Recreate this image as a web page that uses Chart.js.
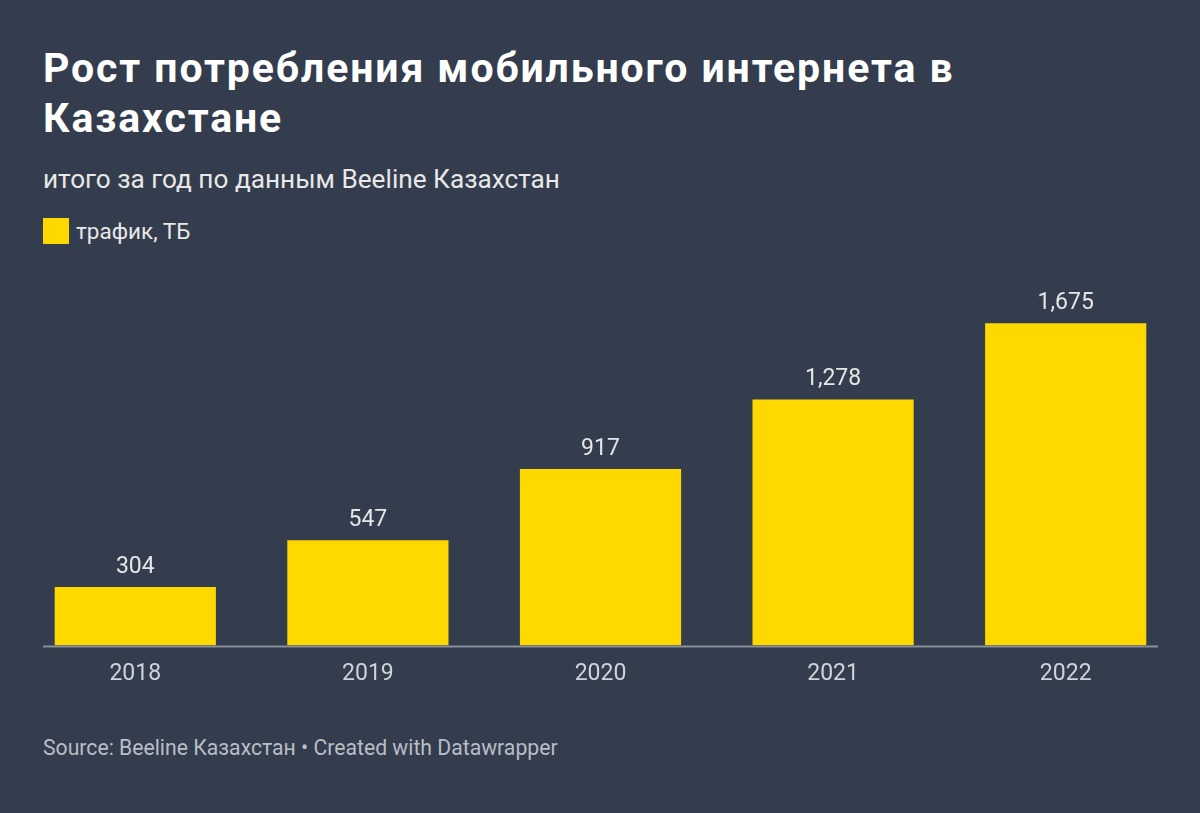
<!DOCTYPE html>
<html lang="ru">
<head>
<meta charset="utf-8">
<script src="https://cdn.jsdelivr.net/npm/chart.js@4/dist/chart.umd.min.js"></script>
<style>
  html, body { margin: 0; padding: 0; }
  body { width: 1200px; height: 813px; background: #333d4d; font-family: Roboto, "Noto Sans", sans-serif; position: relative; overflow: hidden; }
  h1 { position: absolute; left: 43px; top: 43px; width: 1100px; margin: 0; color: #fff; font-size: 41px; font-weight: 700; line-height: 50px; letter-spacing: 1.9px; }
  .sub { position: absolute; left: 43px; top: 166px; margin: 0; color: #e8e8e8; font-size: 26.2px; line-height: 26px; }
  .sq { position: absolute; left: 43px; top: 218px; width: 26px; height: 26px; background: #ffd800; }
  .leg { position: absolute; left: 76px; top: 220px; color: #e8e8e8; font-size: 22.5px; line-height: 22px; }
  .chart-wrap { position: absolute; left: 0; top: 280px; width: 1200px; height: 415px; }
  .foot { position: absolute; left: 43px; top: 737px; color: #b9bec6; font-size: 21.2px; line-height: 21px; }
</style>
</head>
<body>
<h1>Рост потребления мобильного интернета в<br>Казахстане</h1>
<p class="sub">итого за год по данным Beeline Казахстан</p>
<div class="sq"></div>
<div class="leg">трафик, ТБ</div>
<div class="chart-wrap"><canvas id="chart"></canvas></div>
<div class="foot">Source: Beeline Казахстан • Created with Datawrapper</div>
<script>
const years = ['2018', '2019', '2020', '2021', '2022'];
const traffic = [304, 547, 917, 1278, 1675];
const yMax = 1900;

const fmtNum = v => v.toLocaleString('en-US');

const valueLabels = {
  id: 'valueLabels',
  afterDatasetsDraw(chart) {
    const ctx = chart.ctx;
    const meta = chart.getDatasetMeta(0);
    ctx.save();
    ctx.font = '23px Roboto';
    ctx.fillStyle = '#e6e6e6';
    ctx.textAlign = 'center';
    ctx.textBaseline = 'middle';
    meta.data.forEach((bar, i) => {
      ctx.fillText(fmtNum(traffic[i]), bar.x, bar.y - 20);
    });
    ctx.restore();
  }
};

const baseline = {
  id: 'baseline',
  afterDatasetsDraw(chart) {
    const { ctx, chartArea } = chart;
    ctx.save();
    ctx.strokeStyle = '#8a909a';
    ctx.lineWidth = 2;
    ctx.beginPath();
    ctx.moveTo(chartArea.left + 24, chartArea.bottom + 1);
    ctx.lineTo(chartArea.right - 24, chartArea.bottom + 1);
    ctx.stroke();
    ctx.restore();
  }
};

new Chart(document.getElementById('chart'), {
  type: 'bar',
  data: {
    labels: years,
    datasets: [{
      label: 'трафик, ТБ',
      data: traffic,
      backgroundColor: '#ffd800',
      borderWidth: 0,
      categoryPercentage: 1,
      barPercentage: 0.693
    }]
  },
  options: {
    responsive: true,
    maintainAspectRatio: false,
    animation: false,
    layout: { padding: { left: 19, right: 18, top: 0, bottom: 0 } },
    plugins: { legend: { display: false }, tooltip: { enabled: false } },
    scales: {
      x: {
        grid: { display: false },
        border: { display: false },
        ticks: { color: '#d0d3d8', font: { family: 'Roboto', size: 23 }, padding: 7 }
      },
      y: {
        display: false,
        min: 0,
        max: yMax
      }
    }
  },
  plugins: [valueLabels, baseline]
});
</script>
</body>
</html>
